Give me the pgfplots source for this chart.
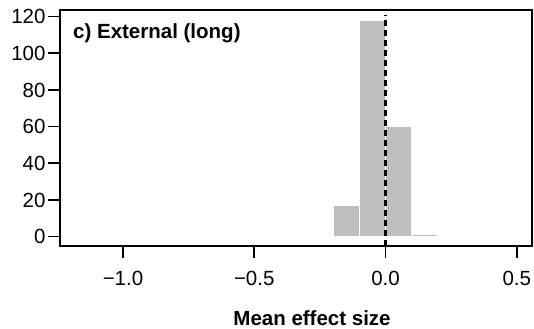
\documentclass[border=0pt]{standalone}
\usepackage{fontspec}
\setmainfont{Liberation Sans}
\usepackage{pgfplots}
\pgfplotsset{compat=1.18}
\definecolor{bargray}{HTML}{BEBEBE}
\begin{document}
\begin{tikzpicture}
\useasboundingbox (-60bp,-83bp) rectangle (474bp,246bp);
\begin{axis}[
  scale only axis, width=472bp, height=236bp,
  xmin=-1.24, xmax=0.558, ymin=-5.1, ymax=123.6,
  axis line style={line width=1.7bp},
  xtick={-1,-0.5,0,0.5}, xticklabels={−1.0,−0.5,0.0,0.5},
  ytick={0,20,40,60,80,100,120},
  xtick pos=bottom, ytick pos=left, tick align=outside, major tick length=12bp,
  every tick/.style={black, line width=1.7bp},
  tick label style={font=\fontsize{20.5bp}{24bp}\selectfont},
  /pgf/number format/assume math mode=true,
  xticklabel style={yshift=-10bp},
  yticklabel style={xshift=1bp},
  clip=false,
]
\addplot[ybar interval, fill=bargray, draw=white, line width=1.3bp] coordinates {
  (-0.2,17) (-0.1,118) (0,60) (0.1,1) (0.2,1)
};
\addplot[black, line width=2.2bp, dash pattern=on 6bp off 4bp] coordinates {(0,-5.1) (0,121)};
\node[anchor=base west, inner sep=0pt, font=\fontsize{20.5bp}{24bp}\selectfont\bfseries] at (axis description cs:0.0275,0.880) {c) External (long)};
\node[anchor=base, inner sep=0pt, font=\fontsize{20.5bp}{24bp}\selectfont\bfseries] at (axis description cs:0.534,-0.335) {Mean effect size};
\end{axis}
\end{tikzpicture}
\end{document}
